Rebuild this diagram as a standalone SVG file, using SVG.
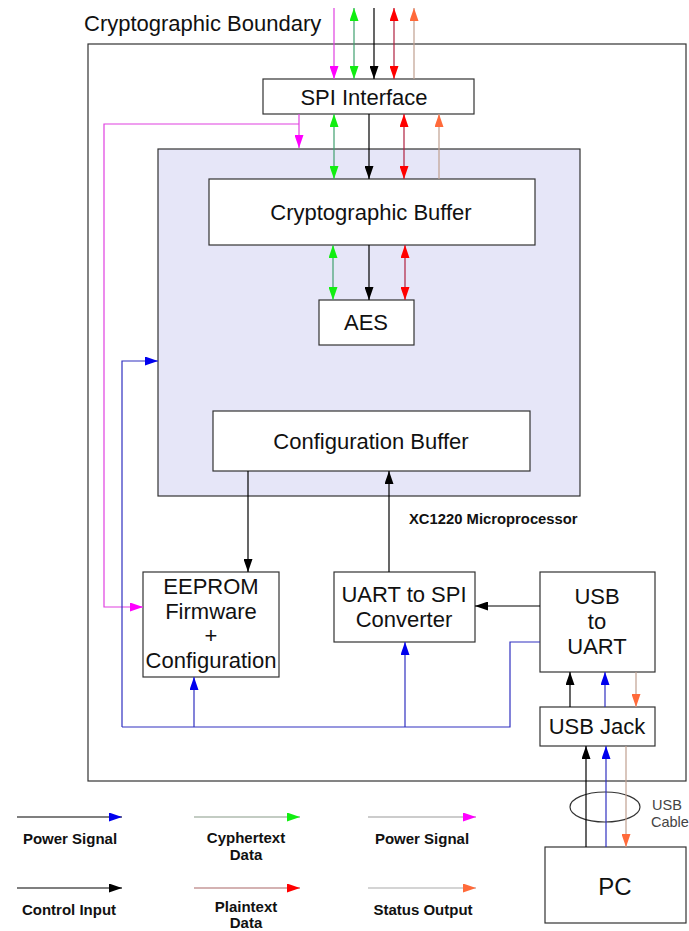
<svg xmlns="http://www.w3.org/2000/svg" width="689" height="931" viewBox="0 0 689 931">
<style>
text{font-family:"Liberation Sans",Arial,sans-serif;fill:#111}
.box{fill:#fff;stroke:#333;stroke-width:1.2}
.lbl{font-size:22px;text-anchor:middle}
.leg{font-size:15px;font-weight:bold;text-anchor:middle}
.c{fill:none;stroke-width:1.2}
.mg{stroke:#e040e0}.gr{stroke:#40a070}.bk{stroke:#000}.rd{stroke:#b02040}.or{stroke:#c0a090}.bl{stroke:#3030c0}
</style>
<defs>
<marker id="hM" viewBox="0 0 13 9" refX="13" refY="4.5" markerWidth="13" markerHeight="9" markerUnits="userSpaceOnUse" orient="auto-start-reverse"><path d="M0,0L13,4.5L0,9z" fill="#ff00ff"/></marker>
<marker id="hG" viewBox="0 0 13 9" refX="13" refY="4.5" markerWidth="13" markerHeight="9" markerUnits="userSpaceOnUse" orient="auto-start-reverse"><path d="M0,0L13,4.5L0,9z" fill="#11ee11"/></marker>
<marker id="hK" viewBox="0 0 13 9" refX="13" refY="4.5" markerWidth="13" markerHeight="9" markerUnits="userSpaceOnUse" orient="auto-start-reverse"><path d="M0,0L13,4.5L0,9z" fill="#000"/></marker>
<marker id="hR" viewBox="0 0 13 9" refX="13" refY="4.5" markerWidth="13" markerHeight="9" markerUnits="userSpaceOnUse" orient="auto-start-reverse"><path d="M0,0L13,4.5L0,9z" fill="#ff0000"/></marker>
<marker id="hO" viewBox="0 0 13 9" refX="13" refY="4.5" markerWidth="13" markerHeight="9" markerUnits="userSpaceOnUse" orient="auto-start-reverse"><path d="M0,0L13,4.5L0,9z" fill="#ff6a3a"/></marker>
<marker id="hB" viewBox="0 0 13 9" refX="13" refY="4.5" markerWidth="13" markerHeight="9" markerUnits="userSpaceOnUse" orient="auto-start-reverse"><path d="M0,0L13,4.5L0,9z" fill="#0000ee"/></marker>
</defs>
<rect width="689" height="931" fill="#fff"/>

<g id="boundary">
<rect x="88" y="44" width="598" height="737" fill="#fff" stroke="#333" stroke-width="1.2"/>
<text x="84" y="31" font-size="22">Cryptographic Boundary</text>
</g>

<g id="microprocessor">
<rect x="158" y="149" width="422" height="347" fill="#e6e6f8" stroke="#333" stroke-width="1.2"/>
<text x="409" y="524" font-size="14.8" font-weight="bold">XC1220 Microprocessor</text>
</g>

<g id="spi"><rect class="box" x="263" y="79" width="211" height="35"/><text class="lbl" x="364" y="105">SPI Interface</text></g>
<g id="cryptobuf"><rect class="box" x="209" y="179" width="326" height="66"/><text class="lbl" x="371" y="220">Cryptographic Buffer</text></g>
<g id="aes"><rect class="box" x="319" y="300" width="95" height="45"/><text class="lbl" x="366" y="330">AES</text></g>
<g id="configbuf"><rect class="box" x="213" y="411" width="317" height="60"/><text class="lbl" x="371" y="449">Configuration Buffer</text></g>
<g id="eeprom"><rect class="box" x="143" y="572" width="136" height="105"/>
<text class="lbl" x="211" y="594">EEPROM</text><text class="lbl" x="211" y="619">Firmware</text><text class="lbl" x="211" y="643">+</text><text class="lbl" x="211" y="668">Configuration</text></g>
<g id="uart2spi"><rect class="box" x="334" y="572" width="141" height="70"/>
<text class="lbl" x="404" y="602">UART to SPI</text><text class="lbl" x="404" y="627">Converter</text></g>
<g id="usb2uart"><rect class="box" x="540" y="572" width="115" height="100"/>
<text class="lbl" x="597" y="604">USB</text><text class="lbl" x="597" y="629">to</text><text class="lbl" x="597" y="654">UART</text></g>
<g id="usbjack"><rect class="box" x="540" y="707" width="115" height="39"/><text class="lbl" x="597" y="734">USB Jack</text></g>
<g id="pc"><rect class="box" x="545" y="847" width="141" height="76"/><text x="615" y="895" font-size="24" text-anchor="middle">PC</text></g>
<g id="cable"><ellipse cx="605" cy="807" rx="35" ry="15" fill="none" stroke="#333" stroke-width="1.2"/>
<text x="652" y="810" font-size="14.5" style="fill:#444">USB</text><text x="651" y="827" font-size="14.5" style="fill:#444">Cable</text></g>

<g id="connectors">
<path class="c mg" d="M334,8V79" marker-end="url(#hM)"/>
<path class="c gr" d="M354,8V79" marker-start="url(#hG)" marker-end="url(#hG)"/>
<path class="c bk" d="M374,8V79" marker-end="url(#hK)"/>
<path class="c rd" d="M394,8V79" marker-start="url(#hR)" marker-end="url(#hR)"/>
<path class="c or" d="M414,79V8" marker-end="url(#hO)"/>

<path class="c mg" d="M299,114V148" marker-end="url(#hM)"/>
<path class="c mg" d="M299,124H104V607H143" marker-end="url(#hM)"/>
<path class="c gr" d="M334,114V179" marker-start="url(#hG)" marker-end="url(#hG)"/>
<path class="c bk" d="M369,114V179" marker-end="url(#hK)"/>
<path class="c rd" d="M404,114V179" marker-start="url(#hR)" marker-end="url(#hR)"/>
<path class="c or" d="M439,179V114" marker-end="url(#hO)"/>

<path class="c gr" d="M333,245V300" marker-start="url(#hG)" marker-end="url(#hG)"/>
<path class="c bk" d="M369,245V300" marker-end="url(#hK)"/>
<path class="c rd" d="M405,245V300" marker-start="url(#hR)" marker-end="url(#hR)"/>

<path class="c bl" d="M122,727V361H158" marker-end="url(#hB)"/>
<path class="c bl" d="M122,727H510V642H540"/>
<path class="c bl" d="M194,727V677" marker-end="url(#hB)"/>
<path class="c bl" d="M405,727V642" marker-end="url(#hB)"/>

<path class="c bk" d="M248,471V572" marker-end="url(#hK)"/>
<path class="c bk" d="M389,572V471" marker-end="url(#hK)"/>
<path class="c bk" d="M540,606H475" marker-end="url(#hK)"/>

<path class="c bk" d="M570,707V672" marker-end="url(#hK)"/>
<path class="c bl" d="M605,707V672" marker-end="url(#hB)"/>
<path class="c or" d="M636,672V707" marker-end="url(#hO)"/>
<path class="c bk" d="M586,847V746" marker-end="url(#hK)"/>
<path class="c bl" d="M606,847V746" marker-end="url(#hB)"/>
<path class="c or" d="M626,746V847" marker-end="url(#hO)"/>
</g>

<g id="legend">
<path class="c bk" d="M17,817H122" marker-end="url(#hB)"/>
<path class="c" stroke="#889988" d="M194,817H300" marker-end="url(#hG)"/>
<path class="c" stroke="#999" d="M368,817H476" marker-end="url(#hM)"/>
<path class="c bk" d="M17,888H122" marker-end="url(#hK)"/>
<path class="c" stroke="#a66" d="M194,888H300" marker-end="url(#hR)"/>
<path class="c" stroke="#aaa" d="M368,888H476" marker-end="url(#hO)"/>
<text class="leg" x="70" y="844">Power Signal</text>
<text class="leg" x="246" y="843">Cyphertext</text>
<text class="leg" x="246" y="860">Data</text>
<text class="leg" x="422" y="844">Power Signal</text>
<text class="leg" x="69" y="915">Control Input</text>
<text class="leg" x="246" y="912">Plaintext</text>
<text class="leg" x="246" y="928">Data</text>
<text class="leg" x="423" y="915">Status Output</text>
</g>
</svg>
